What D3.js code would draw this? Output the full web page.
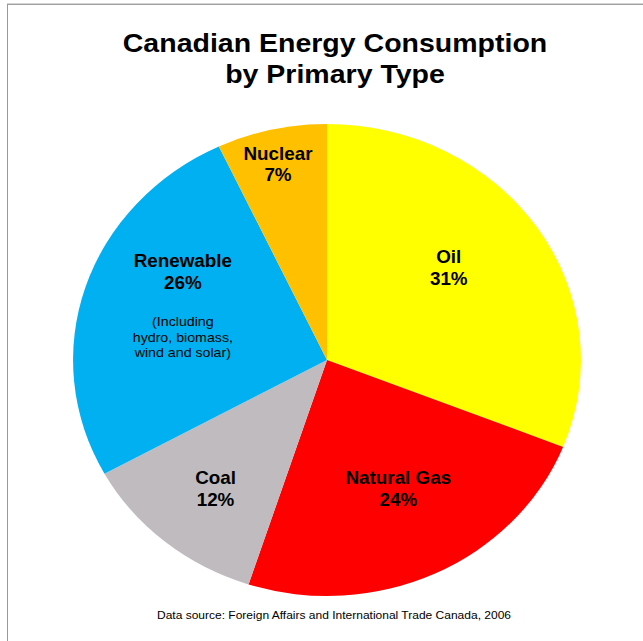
<!DOCTYPE html>
<html>
<head>
<meta charset="utf-8">
<script src="https://cdn.jsdelivr.net/npm/d3@7"></script>
<style>
  html, body { margin: 0; padding: 0; background: #fff; }
  svg { display: block; }
</style>
</head>
<body>
<div id="chart"></div>
<script>
// chart data
const categories = ["Oil", "Natural Gas", "Coal", "Renewable", "Nuclear"];
const shares = [31, 24, 12, 26, 7];
const sliceColors = ["#FFFF00", "#FF0000", "#BFBBBF", "#00B0F0", "#FFC000"];
const renewableNote = ["(Including", "hydro, biomass,", "wind and solar)"];
const titleLines = ["Canadian Energy Consumption", "by Primary Type"];
const sourceText = "Data source: Foreign Affairs and International Trade Canada, 2006";

// label placement (layout only): distance from centre and angle nudge in degrees
const labelRadius = [146, 145, 165, 144, 201];
const labelNudge = [-5, -2, -0.7, 3.5, -0.5];

const width = 643, height = 641;
const cx = 327, cy = 360;
const radius = 236;
const stretch = 1.076; // the original picture is a bit wider than tall

const svg = d3.select("#chart").append("svg")
    .attr("width", width)
    .attr("height", height);

// frame lines (top and left)
svg.append("rect").attr("x", 7).attr("y", 3).attr("width", width - 7).attr("height", 1).attr("fill", "#d4d4d4");
svg.append("rect").attr("x", 7).attr("y", 4).attr("width", width - 7).attr("height", 1).attr("fill", "#a0a0a0");
svg.append("rect").attr("x", 7).attr("y", 4).attr("width", 1).attr("height", height - 4).attr("fill", "#999");

// title
const title = svg.append("g")
    .attr("transform", `translate(335,0) scale(${stretch},1)`);
title.selectAll("text")
    .data(titleLines)
    .enter().append("text")
    .attr("x", 0)
    .attr("y", (d, i) => 52 + i * 31)
    .attr("text-anchor", "middle")
    .style("font-family", "'Liberation Sans', Arial, sans-serif")
    .style("font-weight", "bold")
    .style("font-size", "26.5px")
    .style("fill", "#000")
    .text(d => d);

const data = categories.map((name, i) => ({ name, value: shares[i], color: sliceColors[i], idx: i }));

const pie = d3.pie()
    .value(d => d.value)
    .sort(null);

const arc = d3.arc()
    .innerRadius(0)
    .outerRadius(radius);

const g = svg.append("g")
    .attr("transform", `translate(${cx},${cy}) scale(${stretch},1)`);

const arcs = pie(data);

g.selectAll(".slice")
    .data(arcs)
    .enter().append("path")
    .attr("class", "slice")
    .attr("d", arc)
    .style("fill", d => d.data.color);

// label anchor: mid angle of the slice, nudged, at the label radius
const labelPos = d => {
    const r = labelRadius[d.data.idx];
    const a = (d.startAngle + d.endAngle) / 2 + labelNudge[d.data.idx] * Math.PI / 180;
    return [r * Math.sin(a), -r * Math.cos(a)];
};

arcs.forEach(d => {
    const [lx, ly] = labelPos(d);
    const lines = [
        { text: d.data.name, bold: true, dy: 0 },
        { text: d.data.value + "%", bold: true, dy: 21.7 }
    ];
    if (d.data.name === "Renewable") {
        renewableNote.forEach((t, i) => lines.push({ text: t, bold: false, dy: 59.4 + i * 15.5 }));
    }
    // vertical centre of the block
    const last = lines[lines.length - 1];
    const bottom = last.dy + (last.bold ? 0 : 3);
    const offset = (-12.6 + bottom) / 2;

    const lg = g.append("g").attr("transform", `translate(${lx},${ly - offset})`);
    lg.selectAll("text")
        .data(lines)
        .enter().append("text")
        .attr("x", 0)
        .attr("y", l => l.dy)
        .attr("text-anchor", "middle")
        .style("font-family", "'Liberation Sans', Arial, sans-serif")
        .style("font-weight", l => l.bold ? "bold" : "normal")
        .style("font-size", l => l.bold ? "17.5px" : "13.2px")
        .style("fill", "#000")
        .text(l => l.text);
});

// source note
svg.append("g")
    .attr("transform", `translate(334,619) scale(${stretch},1)`)
    .append("text")
    .attr("x", 0)
    .attr("y", 0)
    .attr("text-anchor", "middle")
    .attr("textLength", 329)
    .attr("lengthAdjust", "spacingAndGlyphs")
    .style("font-family", "'Liberation Sans', Arial, sans-serif")
    .style("font-size", "11px")
    .style("fill", "#000")
    .text(sourceText);
</script>
</body>
</html>
